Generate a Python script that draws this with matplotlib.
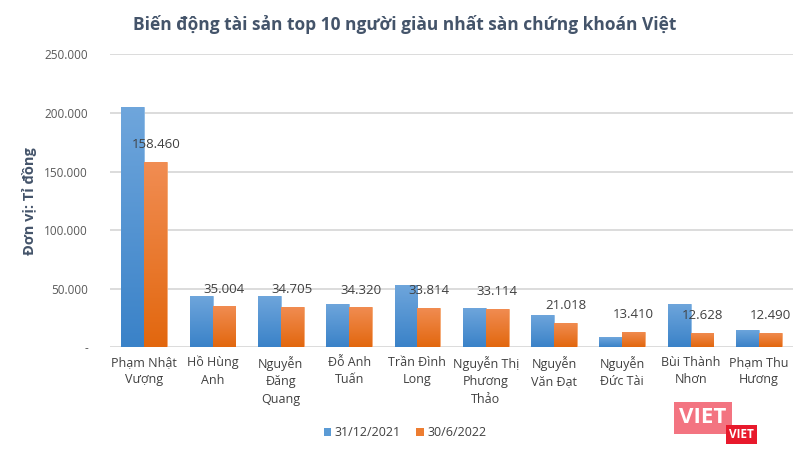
import numpy as np
import matplotlib.pyplot as plt
from matplotlib.colors import LinearSegmentedColormap
from matplotlib.patches import Patch

plt.rcParams['font.family'] = ['Open Sans', 'DejaVu Sans']

names = ['Phạm Nhật\nVượng', 'Hồ Hùng\nAnh', 'Nguyễn\nĐăng\nQuang', 'Đỗ Anh\nTuấn',
         'Trần Đình\nLong', 'Nguyễn Thị\nPhương\nThảo', 'Nguyễn\nVăn Đạt',
         'Nguyễn\nĐức Tài', 'Bùi Thành\nNhơn', 'Phạm Thu\nHương']
end_2021 = [205000, 44000, 43600, 37300, 53200, 34000, 27400, 8500, 37000, 15300]
mid_2022 = [158460, 35004, 34705, 34320, 33814, 33114, 21018, 13410, 12628, 12490]
labels_2022 = ['158.460', '35.004', '34.705', '34.320', '33.814', '33.114',
               '21.018', '13.410', '12.628', '12.490']
yticks = [0, 50000, 100000, 150000, 200000, 250000]
ytick_labels = ['-', '50.000', '100.000', '150.000', '200.000', '250.000']

blue_cmap = LinearSegmentedColormap.from_list('b', ['#3A82C8', '#6FA6DC'])
orange_cmap = LinearSegmentedColormap.from_list('o', ['#E2670E', '#F18D53'])

fig = plt.figure(figsize=(8.1, 4.53), dpi=100)
ax = fig.add_axes([0.136, 0.233, 0.843, 0.647])

x = np.arange(len(names))
w = 0.335
b1 = ax.bar(x - w / 2, end_2021, w, color='#5B9BD5', edgecolor='#8DBBE6', linewidth=0.6, zorder=2)
b2 = ax.bar(x + w / 2, mid_2022, w, color='#ED7D31', edgecolor='#F5A872', linewidth=0.6, zorder=2)

# gradient fill inside each bar
grad = np.linspace(0, 1, 256).reshape(-1, 1)
for bars, cmap in ((b1, blue_cmap), (b2, orange_cmap)):
    for r in bars:
        x0, y0 = r.get_x(), r.get_y()
        im = ax.imshow(grad, cmap=cmap, origin='lower', aspect='auto',
                       extent=[x0, x0 + r.get_width(), y0, y0 + r.get_height()], zorder=2.5)
        im.set_clip_path(r)

for xi, v, lab in zip(x, mid_2022, labels_2022):
    ax.text(xi + w / 2, v + 9000, lab, ha='center', va='bottom', fontsize=9.5, color='#404040')

ax.set_xlim(-0.5, len(names) - 0.5)
ax.set_ylim(0, 250000)
ax.set_yticks(yticks)
ax.set_yticklabels(ytick_labels, fontsize=8.5, color='#595959')
ax.set_xticks(x)
ax.set_xticklabels(names, fontsize=9, color='#404040', linespacing=1.45)
ax.tick_params(axis='both', length=0, pad=6)
ax.tick_params(axis='y', pad=16)
ax.grid(axis='y', color='#D9D9D9', linewidth=1.3, zorder=0)
ax.set_axisbelow(True)
for s in ax.spines.values():
    s.set_visible(False)

ax.set_ylabel('Đơn vị: Tỉ đồng', fontsize=10.5, fontweight='bold', color='#44546A', labelpad=5)

fig.text(0.5, 0.945, 'Biến động tài sản top 10 người giàu nhất sàn chứng khoán Việt',
         ha='center', va='center', fontsize=12.5, fontweight='bold', color='#44546A')

handles = [Patch(facecolor='#5B9BD5'), Patch(facecolor='#ED7D31')]
fig.legend(handles, ['31/12/2021', '30/6/2022'], loc='center', bbox_to_anchor=(0.5, 0.045),
           ncol=2, frameon=False, fontsize=9, handlelength=0.6, handleheight=0.6,
           handletextpad=0.3, columnspacing=1.2, labelcolor='#404040')

# watermark logo
fig.text(0.868, 0.078, 'VIET', ha='center', va='center', fontsize=16, fontweight='bold',
         color='white',
         bbox=dict(boxstyle='square,pad=0.25', facecolor='#F25C6B', edgecolor='none', alpha=0.85))
fig.text(0.915, 0.04, 'VIET', ha='center', va='center', fontsize=8.5, fontweight='bold',
         color='white', bbox=dict(boxstyle='square,pad=0.25', facecolor='#E8192C', edgecolor='none'))

fig.savefig('out.png', dpi=100, facecolor='white')
